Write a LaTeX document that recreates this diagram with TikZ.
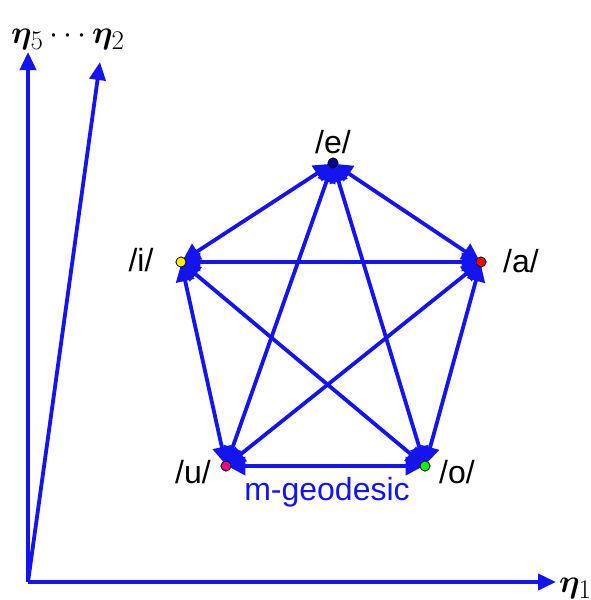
\documentclass[tikz,border=0pt]{standalone}
\usepackage{fontspec}
\usepackage{amsmath,bm,graphicx}
\setmainfont{Liberation Sans}
\usetikzlibrary{arrows.meta}
\definecolor{lineblue}{RGB}{20,20,240}
\begin{document}
\begin{tikzpicture}[x=1pt,y=-1pt,
  edge/.style={draw=lineblue,line width=3.8pt,{Triangle[length=18pt,width=18pt]}-{Triangle[length=18pt,width=18pt]},shorten <=-4pt,shorten >=-4pt},
  axis/.style={draw=lineblue,line width=3.8pt,-{Triangle[length=18pt,width=16pt]}},
  vdot/.style={circle,draw=black,line width=0.7pt,inner sep=0pt,minimum size=10pt},
  vlabel/.style={font=\fontsize{32}{36}\selectfont},
  axlabel/.style={font=\Huge,inner sep=0pt}]
\useasboundingbox (0,0) rectangle (591,600);
% axes
\coordinate (O) at (28,582);
\coordinate (Y5) at (28,52);
\coordinate (Y2) at (100,62);
\coordinate (X1) at (556,582);
\draw[axis] (O) -- (Y5);
\draw[axis] (O) -- (Y2);
\draw[axis] (O) -- (X1);
\node[axlabel,anchor=base west] (l52) at (11,43) {\scalebox{1.3}{$\bm{\eta}_5\cdots\bm{\eta}_2$}};
\node[axlabel,anchor=base west] (l1) at (559,592) {\scalebox{1.3}{$\bm{\eta}_1$}};
% vertices
\node[vdot,fill=blue!60!black] (e) at (333,163) {};
\node[vdot,fill=yellow] (i) at (181,262) {};
\node[vdot,fill=red] (a) at (481,262) {};
\node[vdot,fill=magenta] (u) at (226,466) {};
\node[vdot,fill=green] (o) at (425,466) {};
% edges
\foreach \p/\q in {e/i,e/a,e/u,e/o,i/a,i/u,i/o,a/u,a/o,u/o}
  \draw[edge] (\p) -- (\q);
% redraw dots on top
\node[vdot,fill=blue!60!black] at (e) {};
\node[vdot,fill=yellow] at (i) {};
\node[vdot,fill=red] at (a) {};
\node[vdot,fill=magenta] at (u) {};
\node[vdot,fill=green] at (o) {};
% labels
\node[vlabel] (le) at (333,142) {/e/};
\node[vlabel] (li) at (141,260) {/i/};
\node[vlabel] (la) at (521,261) {/a/};
\node[vlabel] (lu) at (193,472) {/u/};
\node[vlabel] (lo) at (457,472) {/o/};
\node[vlabel,text=lineblue] (lg) at (327,492) {m-geodesic};
\end{tikzpicture}
\end{document}
